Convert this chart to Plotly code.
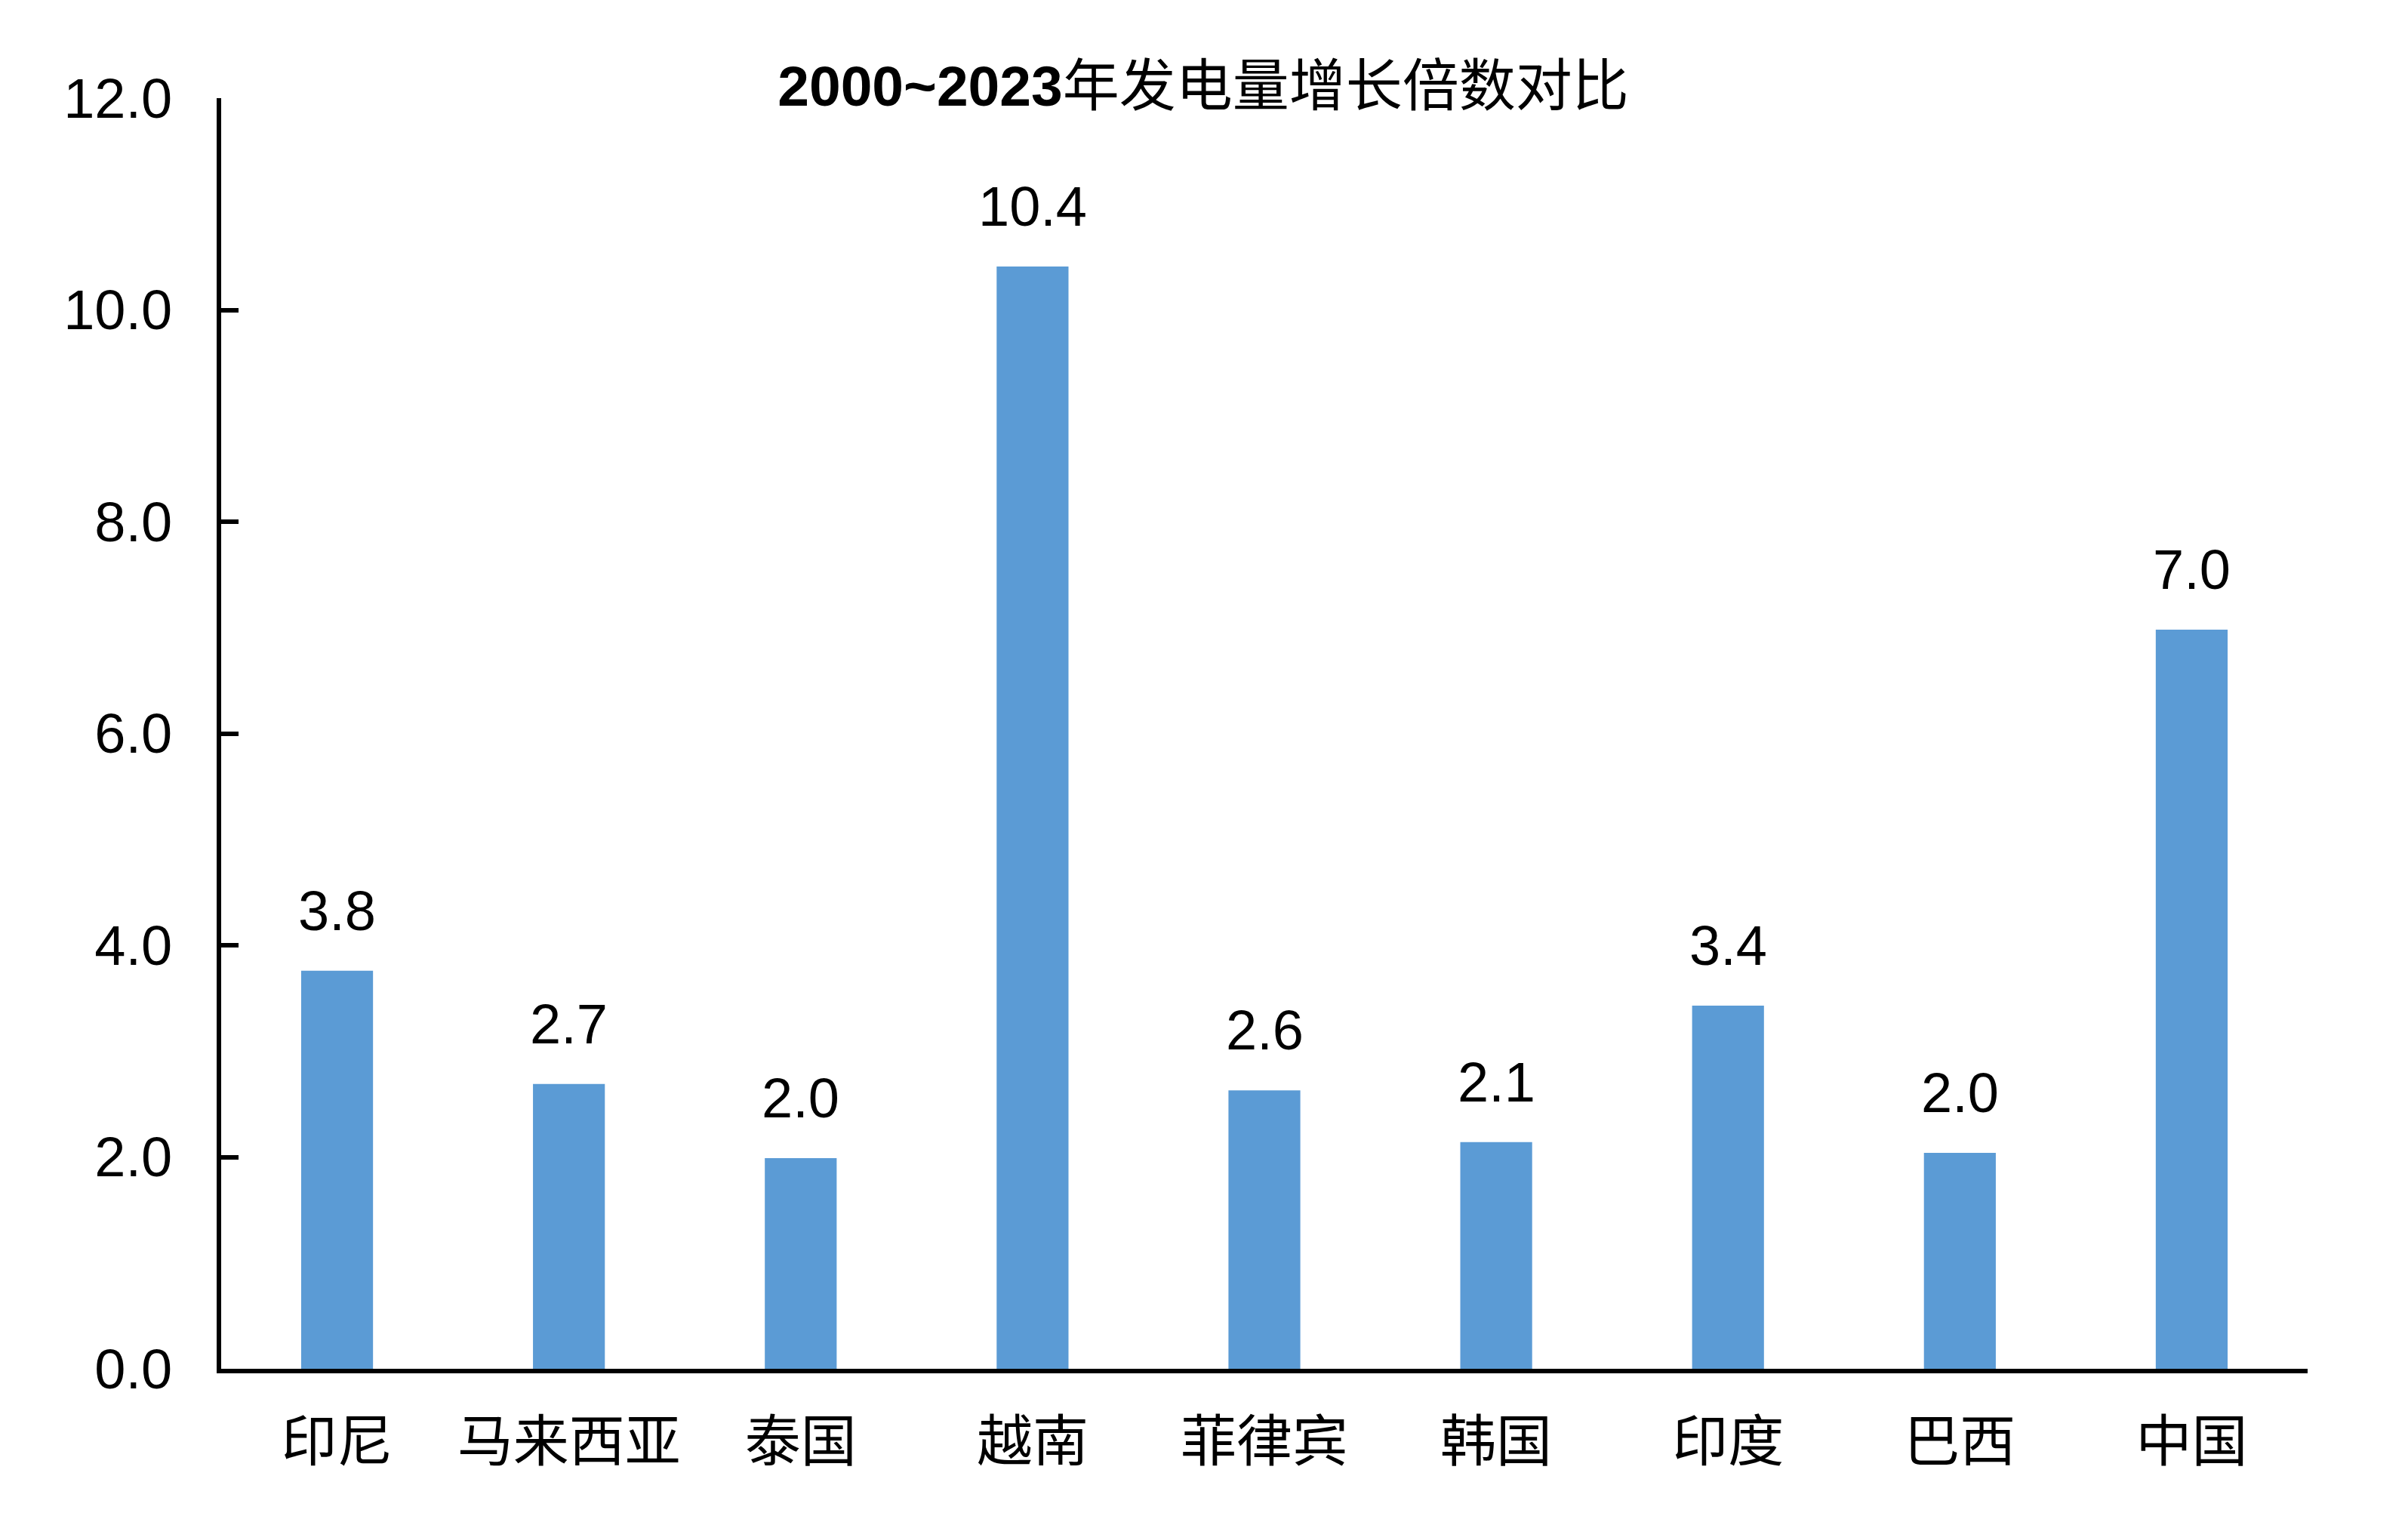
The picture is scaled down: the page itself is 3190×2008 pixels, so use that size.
import plotly.graph_objects as go

categories = ["印尼", "马来西亚", "泰国", "越南", "菲律宾", "韩国", "印度", "巴西", "中国"]
values = [3.76, 2.69, 1.99, 10.41, 2.63, 2.14, 3.43, 2.04, 6.98]
y_ticks = [0, 2, 4, 6, 8, 10, 12]
y_tick_labels = ["0.0", "2.0", "4.0", "6.0", "8.0", "10.0", "12.0"]
title_text = "<b>2000~2023</b>年发电量增长倍数对比"

FONT = "Liberation Sans, Arial, Noto Sans CJK SC"

fig = go.Figure()
fig.add_trace(go.Bar(
    x=categories, y=values,
    marker=dict(color="#5B9BD5", line=dict(width=0)),
    hoverinfo="skip",
))

for c, v in zip(categories, values):
    fig.add_annotation(
        x=c, y=v, xref="x", yref="y",
        text=f"{v:.1f}", showarrow=False,
        yanchor="bottom", yshift=36,
        font=dict(size=74, color="black", family=FONT),
    )

fig.update_layout(
    width=3190, height=2008,
    paper_bgcolor="white", plot_bgcolor="white",
    margin=dict(l=285, r=141, t=122, b=203),
    bargap=0.69,
    showlegend=False,
    title=dict(
        text=title_text, x=1586 / 3190, xref="container", xanchor="center",
        y=1 - 106 / 2008, yref="container", yanchor="middle",
        font=dict(size=75, color="black", family=FONT),
    ),
    font=dict(family=FONT, color="black"),
)

fig.update_xaxes(
    showline=True, linecolor="black", linewidth=6,
    ticks="", showgrid=False, zeroline=False,
    tickfont=dict(size=74, color="black", family="Noto Sans CJK SC"),
    ticklabelstandoff=27,
)
fig.update_yaxes(
    range=[0, 12], tickvals=y_ticks, ticktext=y_tick_labels,
    showline=True, linecolor="black", linewidth=6,
    ticks="inside", ticklen=23, tickwidth=6, tickcolor="black",
    showgrid=False, zeroline=False,
    tickfont=dict(size=74, color="black", family=FONT),
    ticklabelstandoff=44,
)

fig.write_html("out.html")
